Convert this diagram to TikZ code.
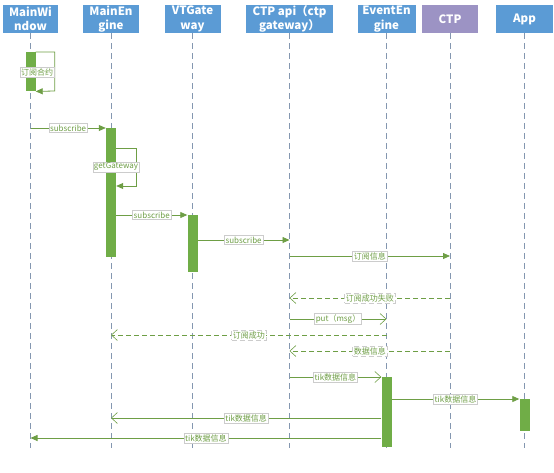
\documentclass[tikz,border=0pt]{standalone}
\usepackage{fontspec}
\newfontfamily\cjk{Noto Sans CJK SC}
\usetikzlibrary{arrows.meta}
\definecolor{hdrblue}{HTML}{5B9BD5}
\definecolor{hdrpurple}{HTML}{9C93C4}
\definecolor{actgreen}{HTML}{70AD47}
\definecolor{msggreen}{HTML}{6E9E45}
\definecolor{lifegray}{HTML}{8497B0}

\begin{document}
\begin{tikzpicture}[x=1pt,y=-1pt,
  hdr/.style={shape=rectangle,fill=hdrblue,text=white,align=center,inner sep=0pt,minimum height=28,font=\cjk\bfseries\fontsize{11.5}{14.5}\selectfont},
  life/.style={draw=lifegray,line width=0.6pt,dash pattern=on 6pt off 4pt},
  bar/.style={shape=rectangle,fill=actgreen,inner sep=0pt,minimum width=10,anchor=north},
  sync/.style={-{Triangle[length=7pt,width=6pt]},draw=msggreen,line width=0.8pt},
  async/.style={-{Straight Barb[length=6pt,width=11pt,line width=0.6pt]},draw=msggreen,line width=0.8pt},
  reply/.style={async,dash pattern=on 5pt off 3pt},
  lbl/.style={shape=rectangle,fill=white,draw=black!20,line width=0.3pt,text=msggreen,inner sep=1.2pt,font=\cjk\fontsize{8}{9}\selectfont}]
\useasboundingbox (0,0) rectangle (554,472);

\node[hdr,minimum width=55] (0) at (30.5,19) {MainWi\\ndow};
\node[hdr,minimum width=56] (1) at (111,19) {MainEn\\gine};
\node[hdr,minimum width=56] (2) at (192.5,19) {VTGate\\way};
\node[hdr,minimum width=87] (3) at (289.5,19) {CTP api（ctp\\gateway）};
\node[hdr,minimum width=58] (4) at (386.5,19) {EventEn\\gine};
\node[hdr,fill=hdrpurple,minimum width=56] (5) at (450,19) {CTP};
\node[hdr,minimum width=57] (6) at (524.5,19) {App};

\foreach \i in {0,...,6} {
  \coordinate (e\i) at (\i.south |- 0,448);
  \path (\i.south) edge[life] (e\i);
}

\node[bar,minimum height=39] (b0) at (0.south |- 0,52) {};
\node[bar,minimum height=129] (b1) at (1.south |- 0,128) {};
\node[bar,minimum height=57] (b2) at (2.south |- 0,215) {};
\node[bar,minimum height=70] (b4) at (4.south |- 0,377) {};
\node[bar,minimum height=32] (b6) at (6.south |- 0,399) {};

\draw [sync] (b0.north east) -- ++(19,0) -- ++(0,39) -- (b0.south east);
\node[lbl] (l0) at (37,72) {订阅合约};

\coordinate (p1) at (0.south |- 0,128);
\path (p1) edge[sync] node[lbl] (l1) {subscribe} (b1.north west);

\coordinate (g0) at (b1.east |- 0,148);
\coordinate (g1) at (b1.east |- 0,186);
\draw [sync] (g0) -- ++(20,0) |- (g1);
\node[lbl] (l2) at (116,167) {getGateway};

\coordinate (p3) at (b1.east |- 0,215);
\path (p3) edge[sync] node[lbl] (l3) {subscribe} (b2.north west);

\coordinate (p4a) at (b2.east |- 0,240);
\coordinate (p4b) at (3.south |- 0,240);
\path (p4a) edge[sync] node[lbl] (l4) {subscribe} (p4b);

\coordinate (p5a) at (3.south |- 0,256);
\coordinate (p5b) at (5.south |- 0,256);
\path (p5a) edge[sync] node[lbl] (l5) {订阅信息} (p5b);

\coordinate (p6a) at (5.south |- 0,298);
\coordinate (p6b) at (3.south |- 0,298);
\path (p6a) edge[reply] node[lbl] (l6) {订阅成功失败} (p6b);

\coordinate (p7a) at (3.south |- 0,319);
\coordinate (p7b) at (4.south |- 0,319);
\path (p7a) edge[async] node[lbl] (l7) {put（msg）} (p7b);

\coordinate (p8a) at (4.south |- 0,335);
\coordinate (p8b) at (1.south |- 0,335);
\path (p8a) edge[reply] node[lbl] (l8) {订阅成功} (p8b);

\coordinate (p9a) at (5.south |- 0,351);
\coordinate (p9b) at (3.south |- 0,351);
\path (p9a) edge[reply] node[lbl] (l9) {数据信息} (p9b);

\coordinate (p10) at (3.south |- 0,377);
\path (p10) edge[async] node[lbl] (l10) {tik数据信息} (b4.north west);

\coordinate (p11) at (b4.east |- 0,399);
\path (p11) edge[sync] node[lbl] (l11) {tik数据信息} (b6.north west);

\coordinate (p12a) at (b4.west |- 0,418);
\coordinate (p12b) at (1.south |- 0,418);
\path (p12a) edge[async] node[lbl] (l12) {tik数据信息} (p12b);

\coordinate (p13a) at (b4.west |- 0,438);
\coordinate (p13b) at (0.south |- 0,438);
\path (p13a) edge[sync] node[lbl] (l13) {tik数据信息} (p13b);
\end{tikzpicture}
\end{document}
